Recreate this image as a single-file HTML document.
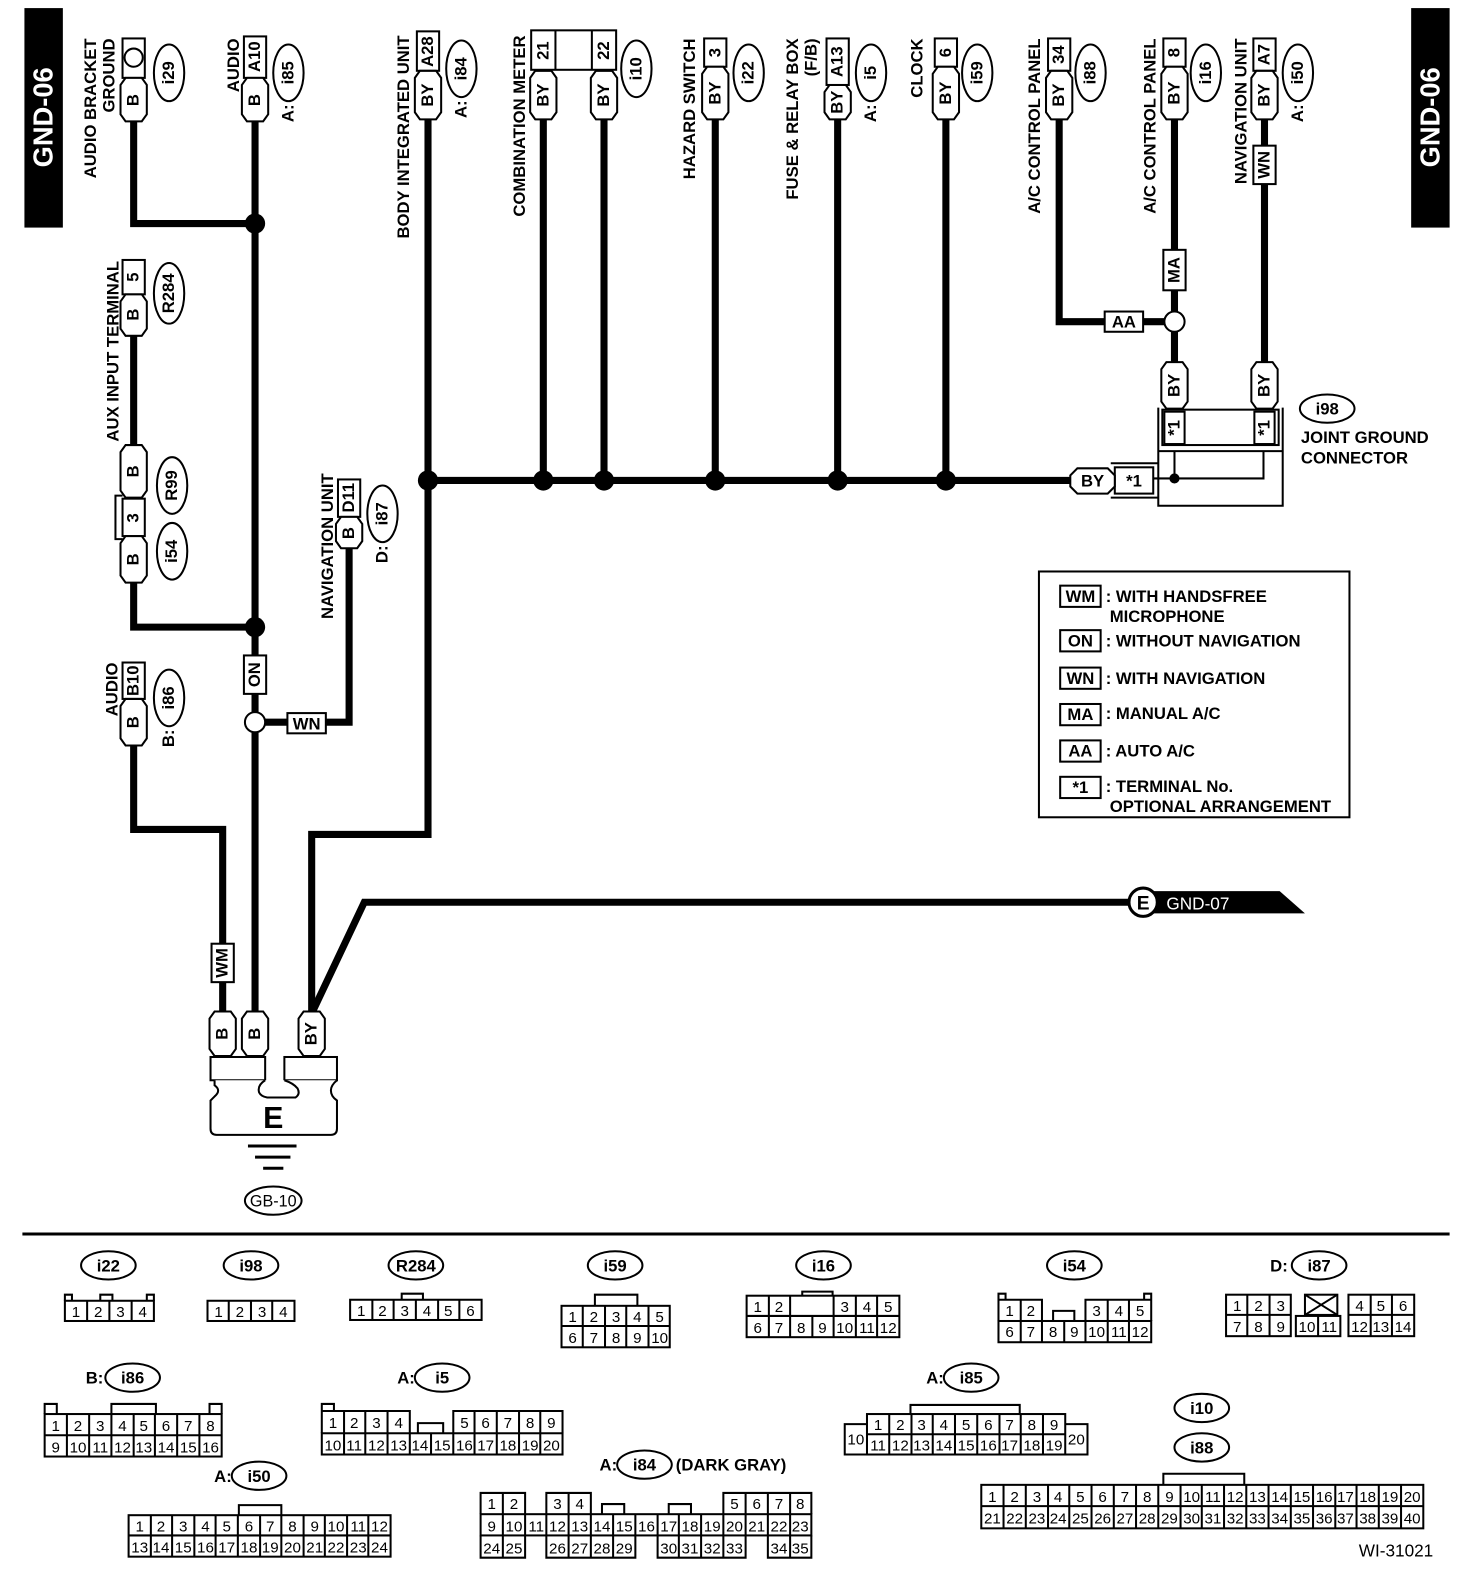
<!DOCTYPE html>
<html><head><meta charset="utf-8"><style>
html,body{margin:0;padding:0;background:#fff}
svg{display:block}
text{font-family:"Liberation Sans",sans-serif;font-weight:bold;font-size:16.5px;fill:#000}
.n{font-weight:normal;font-size:15px}
.o{fill:none;stroke:#000;stroke-width:2}
.w{fill:none;stroke:#000;stroke-width:7}
.t{fill:none;stroke:#000;stroke-width:2}
.c{fill:#fff;stroke:#000;stroke-width:2}
</style></head><body>
<svg width="1472" height="1586" viewBox="0 0 1455 1568" xmlns="http://www.w3.org/2000/svg">
<rect x="24" y="8" width="38" height="217" fill="#000"/>
<text transform="translate(52,116) rotate(-90)" text-anchor="middle" style="fill:#fff;font-size:27px">GND-06</text>
<rect x="1395" y="8" width="38" height="217" fill="#000"/>
<text transform="translate(1423,116) rotate(-90)" text-anchor="middle" style="fill:#fff;font-size:27px">GND-06</text>

<polyline class="w" points="132,118 132,221 252,221"/>
<line class="w" x1="252" y1="118" x2="252" y2="1002"/>
<polyline class="w" points="132,576 132,620 252,620"/>
<line class="w" x1="132" y1="332" x2="132" y2="440"/>
<polyline class="w" points="252,714 345,714 345,542"/>
<polyline class="w" points="132,737 132,820 220,820 220,1002"/>
<polyline class="w" points="423,118 423,825 308,825 308,1002"/>
<polyline class="w" points="1125,892 360,892 308,1002"/>
<line class="w" x1="423" y1="475" x2="1060" y2="475"/>
<line class="w" x1="537" y1="118" x2="537" y2="475"/>
<line class="w" x1="597" y1="118" x2="597" y2="475"/>
<line class="w" x1="707" y1="118" x2="707" y2="475"/>
<line class="w" x1="828" y1="118" x2="828" y2="475"/>
<line class="w" x1="935" y1="118" x2="935" y2="475"/>
<polyline class="w" points="1047,118 1047,318 1161,318"/>
<line class="w" x1="1161" y1="118" x2="1161" y2="360"/>
<line class="w" x1="1250" y1="118" x2="1250" y2="360"/>
<circle cx="252" cy="221" r="10"/><circle cx="252" cy="620" r="10"/>
<circle cx="423" cy="475" r="10"/><circle cx="537" cy="475" r="10"/><circle cx="597" cy="475" r="10"/>
<circle cx="707" cy="475" r="10"/><circle cx="828" cy="475" r="10"/><circle cx="935" cy="475" r="10"/>
<circle class="c" cx="252" cy="714" r="10"/>
<circle class="c" cx="1161" cy="318" r="10"/>

<rect class="c" x="241" y="648" width="22" height="38"/><text transform="translate(257,667) rotate(-90)" text-anchor="middle">ON</text>
<rect class="c" x="284" y="705" width="38" height="20"/><text x="303" y="721" text-anchor="middle">WN</text>
<rect class="c" x="209" y="933" width="22" height="38"/><text transform="translate(225,952) rotate(-90)" text-anchor="middle">WM</text>
<rect class="c" x="1092" y="308" width="38" height="20"/><text x="1111" y="324" text-anchor="middle">AA</text>
<rect class="c" x="1150" y="247" width="22" height="40"/><text transform="translate(1166,267) rotate(-90)" text-anchor="middle">MA</text>
<rect class="c" x="1239" y="144" width="22" height="38"/><text transform="translate(1255,163) rotate(-90)" text-anchor="middle">WN</text>

<rect class="c" x="121" y="38" width="22" height="39"/><circle class="o" cx="132" cy="57" r="9"/>
<rect class="c" x="241" y="36" width="22" height="41"/><text transform="translate(257,56) rotate(-90)" text-anchor="middle">A10</text>
<rect class="c" x="412" y="31" width="22" height="39"/><text transform="translate(428,51) rotate(-90)" text-anchor="middle">A28</text>
<rect class="c" x="525" y="30" width="84" height="39"/><line class="t" x1="549" y1="30" x2="549" y2="69"/><line class="t" x1="585" y1="30" x2="585" y2="69"/>
<text transform="translate(542,50) rotate(-90)" text-anchor="middle">21</text><text transform="translate(602,50) rotate(-90)" text-anchor="middle">22</text>
<rect class="c" x="696" y="38" width="22" height="28"/><text transform="translate(712,52) rotate(-90)" text-anchor="middle">3</text>
<rect class="c" x="817" y="38" width="22" height="46"/><text transform="translate(833,61) rotate(-90)" text-anchor="middle">A13</text>
<rect class="c" x="924" y="38" width="22" height="28"/><text transform="translate(940,52) rotate(-90)" text-anchor="middle">6</text>
<rect class="c" x="1036" y="38" width="22" height="32"/><text transform="translate(1052,54) rotate(-90)" text-anchor="middle">34</text>
<rect class="c" x="1150" y="38" width="22" height="28"/><text transform="translate(1166,52) rotate(-90)" text-anchor="middle">8</text>
<rect class="c" x="1239" y="38" width="22" height="32"/><text transform="translate(1255,54) rotate(-90)" text-anchor="middle">A7</text>
<polygon class="c" points="119,84 124,77 140,77 145,84 145,113 140,120 124,120 119,113"/><text transform="translate(137,99) rotate(-90)" text-anchor="middle">B</text>
<polygon class="c" points="239,84 244,77 260,77 265,84 265,113 260,120 244,120 239,113"/><text transform="translate(257,99) rotate(-90)" text-anchor="middle">B</text>
<polygon class="c" points="410,77 415,70 431,70 436,77 436,111 431,118 415,118 410,111"/><text transform="translate(428,94) rotate(-90)" text-anchor="middle">BY</text>
<polygon class="c" points="524,77 529,70 545,70 550,77 550,111 545,118 529,118 524,111"/><text transform="translate(542,94) rotate(-90)" text-anchor="middle">BY</text>
<polygon class="c" points="584,77 589,70 605,70 610,77 610,111 605,118 589,118 584,111"/><text transform="translate(602,94) rotate(-90)" text-anchor="middle">BY</text>
<polygon class="c" points="694,73 699,66 715,66 720,73 720,111 715,118 699,118 694,111"/><text transform="translate(712,92) rotate(-90)" text-anchor="middle">BY</text>
<polygon class="c" points="815,91 820,84 836,84 841,91 841,111 836,118 820,118 815,111"/><text transform="translate(833,101) rotate(-90)" text-anchor="middle">BY</text>
<polygon class="c" points="922,73 927,66 943,66 948,73 948,111 943,118 927,118 922,111"/><text transform="translate(940,92) rotate(-90)" text-anchor="middle">BY</text>
<polygon class="c" points="1034,77 1039,70 1055,70 1060,77 1060,111 1055,118 1039,118 1034,111"/><text transform="translate(1052,94) rotate(-90)" text-anchor="middle">BY</text>
<polygon class="c" points="1148,73 1153,66 1169,66 1174,73 1174,111 1169,118 1153,118 1148,111"/><text transform="translate(1166,92) rotate(-90)" text-anchor="middle">BY</text>
<polygon class="c" points="1237,77 1242,70 1258,70 1263,77 1263,111 1258,118 1242,118 1237,111"/><text transform="translate(1255,94) rotate(-90)" text-anchor="middle">BY</text>
<ellipse class="o" cx="167" cy="72" rx="15" ry="28"/><text transform="translate(172,72) rotate(-90)" text-anchor="middle">i29</text>
<ellipse class="o" cx="285" cy="72" rx="15" ry="28"/><text transform="translate(290,72) rotate(-90)" text-anchor="middle">i85</text>
<text transform="translate(290,112) rotate(-90)" text-anchor="middle">A:</text>
<ellipse class="o" cx="456" cy="68" rx="15" ry="28"/><text transform="translate(461,68) rotate(-90)" text-anchor="middle">i84</text>
<text transform="translate(461,108) rotate(-90)" text-anchor="middle">A:</text>
<ellipse class="o" cx="629" cy="68" rx="15" ry="28"/><text transform="translate(634,68) rotate(-90)" text-anchor="middle">i10</text>
<ellipse class="o" cx="740" cy="72" rx="15" ry="28"/><text transform="translate(745,72) rotate(-90)" text-anchor="middle">i22</text>
<ellipse class="o" cx="861" cy="72" rx="15" ry="28"/><text transform="translate(866,72) rotate(-90)" text-anchor="middle">i5</text>
<text transform="translate(866,112) rotate(-90)" text-anchor="middle">A:</text>
<ellipse class="o" cx="966" cy="72" rx="15" ry="28"/><text transform="translate(971,72) rotate(-90)" text-anchor="middle">i59</text>
<ellipse class="o" cx="1078" cy="72" rx="15" ry="28"/><text transform="translate(1083,72) rotate(-90)" text-anchor="middle">i88</text>
<ellipse class="o" cx="1192" cy="72" rx="15" ry="28"/><text transform="translate(1197,72) rotate(-90)" text-anchor="middle">i16</text>
<ellipse class="o" cx="1283" cy="72" rx="15" ry="28"/><text transform="translate(1288,72) rotate(-90)" text-anchor="middle">i50</text>
<text transform="translate(1288,112) rotate(-90)" text-anchor="middle">A:</text>
<text transform="translate(95,38) rotate(-90)" text-anchor="end">AUDIO BRACKET</text>
<text transform="translate(113,38) rotate(-90)" text-anchor="end">GROUND</text>
<text transform="translate(236,38) rotate(-90)" text-anchor="end">AUDIO</text>
<text transform="translate(404,35) rotate(-90)" text-anchor="end">BODY INTEGRATED UNIT</text>
<text transform="translate(519,35) rotate(-90)" text-anchor="end">COMBINATION METER</text>
<text transform="translate(687,38) rotate(-90)" text-anchor="end">HAZARD SWITCH</text>
<text transform="translate(789,38) rotate(-90)" text-anchor="end">FUSE &amp; RELAY BOX</text>
<text transform="translate(807,38) rotate(-90)" text-anchor="end">(F/B)</text>
<text transform="translate(912,38) rotate(-90)" text-anchor="end">CLOCK</text>
<text transform="translate(1028,38) rotate(-90)" text-anchor="end">A/C CONTROL PANEL</text>
<text transform="translate(1142,38) rotate(-90)" text-anchor="end">A/C CONTROL PANEL</text>
<text transform="translate(1232,38) rotate(-90)" text-anchor="end">NAVIGATION UNIT</text>

<text transform="translate(117,258) rotate(-90)" text-anchor="end">AUX INPUT TERMINAL</text>
<rect class="c" x="121" y="257" width="22" height="34"/><text transform="translate(137,274) rotate(-90)" text-anchor="middle">5</text>
<polygon class="c" points="119,298 124,291 140,291 145,298 145,325 140,332 124,332 119,325"/><text transform="translate(137,311) rotate(-90)" text-anchor="middle">B</text>
<ellipse class="o" cx="167" cy="290" rx="15" ry="30"/><text transform="translate(172,290) rotate(-90)" text-anchor="middle">R284</text>
<polygon class="c" points="119,447 124,440 140,440 145,447 145,485 140,492 124,492 119,485"/><text transform="translate(137,466) rotate(-90)" text-anchor="middle">B</text>
<ellipse class="o" cx="170" cy="480" rx="15" ry="28"/><text transform="translate(175,480) rotate(-90)" text-anchor="middle">R99</text>
<rect class="c" x="121" y="493" width="22" height="37"/><text transform="translate(137,512) rotate(-90)" text-anchor="middle">3</text>
<polyline class="t" points="121,490 114,490 114,533 121,533"/>
<polygon class="c" points="119,537 124,530 140,530 145,537 145,569 140,576 124,576 119,569"/><text transform="translate(137,553) rotate(-90)" text-anchor="middle">B</text>
<ellipse class="o" cx="170" cy="545" rx="15" ry="28"/><text transform="translate(175,545) rotate(-90)" text-anchor="middle">i54</text>
<text transform="translate(329,612) rotate(-90)" text-anchor="start">NAVIGATION UNIT</text>
<rect class="c" x="334" y="474" width="22" height="37"/><text transform="translate(350,492) rotate(-90)" text-anchor="middle">D11</text>
<polygon class="c" points="332,518 337,511 353,511 358,518 358,535 353,542 337,542 332,535"/><text transform="translate(350,527) rotate(-90)" text-anchor="middle">B</text>
<ellipse class="o" cx="378" cy="508" rx="15" ry="28"/><text transform="translate(383,508) rotate(-90)" text-anchor="middle">i87</text>
<text transform="translate(383,548) rotate(-90)" text-anchor="middle">D:</text>
<text transform="translate(116,655) rotate(-90)" text-anchor="end">AUDIO</text>
<rect class="c" x="121" y="655" width="22" height="36"/><text transform="translate(137,673) rotate(-90)" text-anchor="middle">B10</text>
<polygon class="c" points="119,698 124,691 140,691 145,698 145,730 140,737 124,737 119,730"/><text transform="translate(137,714) rotate(-90)" text-anchor="middle">B</text>
<ellipse class="o" cx="167" cy="690" rx="15" ry="28"/><text transform="translate(172,690) rotate(-90)" text-anchor="middle">i86</text>
<text transform="translate(172,730) rotate(-90)" text-anchor="middle">B:</text>

<polygon class="c" points="1148,365 1153,358 1169,358 1174,365 1174,397 1169,404 1153,404 1148,397"/><text transform="translate(1166,381) rotate(-90)" text-anchor="middle">BY</text>
<polygon class="c" points="1237,365 1242,358 1258,358 1263,365 1263,397 1258,404 1242,404 1237,397"/><text transform="translate(1255,381) rotate(-90)" text-anchor="middle">BY</text>
<polyline class="t" points="1145,403 1145,500 1268,500 1268,403"/>
<rect class="c" x="1149" y="405" width="115" height="35"/>
<rect class="c" x="1151" y="407" width="20" height="32"/><text transform="translate(1166,423) rotate(-90)" text-anchor="middle">*1</text>
<rect class="c" x="1240" y="407" width="20" height="32"/><text transform="translate(1255,423) rotate(-90)" text-anchor="middle">*1</text>
<line class="t" x1="1145" y1="446" x2="1268" y2="446"/>
<line class="t" x1="1161" y1="446" x2="1161" y2="473"/>
<polyline class="t" points="1249,446 1249,473 1140,473"/>
<circle cx="1161" cy="473" r="5"/>
<line class="t" x1="1098" y1="458" x2="1145" y2="458"/><line class="t" x1="1098" y1="492" x2="1145" y2="492"/>
<rect class="c" x="1102" y="462" width="38" height="26"/><text x="1121" y="481" text-anchor="middle">*1</text>
<polygon class="c" points="1065,463 1095,463 1102,470 1102,481 1095,488 1065,488 1058,481 1058,470"/><text x="1080" y="481" text-anchor="middle">BY</text>
<ellipse class="o" cx="1312" cy="404" rx="27" ry="14"/><text x="1312" y="410" text-anchor="middle">i98</text>
<text x="1286" y="438">JOINT GROUND</text>
<text x="1286" y="458">CONNECTOR</text>

<rect class="o" x="1027" y="565" width="307" height="243"/>
<rect class="c" x="1048" y="579" width="40" height="21"/><text x="1068" y="595" text-anchor="middle">WM</text>
<text x="1093" y="595">: WITH HANDSFREE</text><text x="1097" y="615">MICROPHONE</text>
<rect class="c" x="1048" y="623" width="40" height="21"/><text x="1068" y="639" text-anchor="middle">ON</text>
<text x="1093" y="639">: WITHOUT NAVIGATION</text>
<rect class="c" x="1048" y="660" width="40" height="21"/><text x="1068" y="676" text-anchor="middle">WN</text>
<text x="1093" y="676">: WITH NAVIGATION</text>
<rect class="c" x="1048" y="696" width="40" height="21"/><text x="1068" y="712" text-anchor="middle">MA</text>
<text x="1093" y="711">: MANUAL A/C</text>
<rect class="c" x="1048" y="732" width="40" height="21"/><text x="1068" y="748" text-anchor="middle">AA</text>
<text x="1093" y="748">: AUTO A/C</text>
<rect class="c" x="1048" y="768" width="40" height="21"/><text x="1068" y="784" text-anchor="middle">*1</text>
<text x="1093" y="783">: TERMINAL No.</text><text x="1097" y="803">OPTIONAL ARRANGEMENT</text>

<polygon points="1130,881 1265,881 1290,903 1130,903" fill="#000"/>
<circle cx="1130" cy="892" r="14" fill="#fff" stroke="#000" stroke-width="3"/>
<text x="1130" y="899" text-anchor="middle" style="font-size:19px">E</text>
<text x="1153" y="899" style="fill:#fff;font-weight:normal;font-size:17px">GND-07</text>

<polygon class="c" points="207,1007 212,1000 228,1000 233,1007 233,1037 228,1044 212,1044 207,1037"/><text transform="translate(225,1022) rotate(-90)" text-anchor="middle">B</text>
<polygon class="c" points="239,1007 244,1000 260,1000 265,1007 265,1037 260,1044 244,1044 239,1037"/><text transform="translate(257,1022) rotate(-90)" text-anchor="middle">B</text>
<polygon class="c" points="295,1007 300,1000 316,1000 321,1007 321,1037 316,1044 300,1044 295,1037"/><text transform="translate(313,1022) rotate(-90)" text-anchor="middle">BY</text>
<rect class="c" x="208" y="1045" width="54" height="23"/>
<rect class="c" x="281" y="1045" width="52" height="23"/>
<path class="c" d="M212,1068 L212,1073 Q219,1078 212,1084 L208,1088 L208,1116 Q208,1122 214,1122 L327,1122 Q333,1122 333,1116 L333,1088 Q327,1084 327,1078 Q327,1073 333,1068 M262,1068 Q254,1073 256,1080 Q258,1084 264,1085 L292,1085 Q297,1082 294,1076 Q290,1071 281,1068"/>
<text x="270" y="1115" text-anchor="middle" style="font-size:30px">E</text>
<line class="t" x1="245" y1="1133" x2="293" y2="1133" style="stroke-width:3"/>
<line class="t" x1="252" y1="1144" x2="287" y2="1144" style="stroke-width:3"/>
<line class="t" x1="260" y1="1155" x2="280" y2="1155" style="stroke-width:3"/>
<ellipse class="o" cx="270" cy="1187" rx="28" ry="14"/><text x="270" y="1193" text-anchor="middle" style="font-weight:normal;font-size:16px">GB-10</text>

<line x1="22" y1="1220" x2="1433" y2="1220" stroke="#000" stroke-width="3"/>

<g>
<ellipse class="o" cx="107" cy="1251" rx="27" ry="14"/><text x="107" y="1257" text-anchor="middle">i22</text>
<ellipse class="o" cx="248" cy="1251" rx="27" ry="14"/><text x="248" y="1257" text-anchor="middle">i98</text>
<ellipse class="o" cx="411" cy="1251" rx="27" ry="14"/><text x="411" y="1257" text-anchor="middle">R284</text>
<ellipse class="o" cx="608" cy="1251" rx="27" ry="14"/><text x="608" y="1257" text-anchor="middle">i59</text>
<ellipse class="o" cx="814" cy="1251" rx="27" ry="14"/><text x="814" y="1257" text-anchor="middle">i16</text>
<ellipse class="o" cx="1062" cy="1251" rx="27" ry="14"/><text x="1062" y="1257" text-anchor="middle">i54</text>
<text x="1273" y="1257" text-anchor="end">D:</text><ellipse class="o" cx="1304" cy="1251" rx="27" ry="14"/><text x="1304" y="1257" text-anchor="middle">i87</text>
<text x="102" y="1368" text-anchor="end">B:</text><ellipse class="o" cx="131" cy="1362" rx="27" ry="14"/><text x="131" y="1368" text-anchor="middle">i86</text>
<text x="410" y="1368" text-anchor="end">A:</text><ellipse class="o" cx="437" cy="1362" rx="27" ry="14"/><text x="437" y="1368" text-anchor="middle">i5</text>
<text x="933" y="1368" text-anchor="end">A:</text><ellipse class="o" cx="960" cy="1362" rx="27" ry="14"/><text x="960" y="1368" text-anchor="middle">i85</text>
<text x="229" y="1465" text-anchor="end">A:</text><ellipse class="o" cx="256" cy="1459" rx="27" ry="14"/><text x="256" y="1465" text-anchor="middle">i50</text>
<text x="610" y="1454" text-anchor="end">A:</text><ellipse class="o" cx="637" cy="1448" rx="27" ry="14"/><text x="637" y="1454" text-anchor="middle">i84</text>
<text x="668" y="1454">(DARK GRAY)</text>
<ellipse class="o" cx="1188" cy="1392" rx="27" ry="14"/><text x="1188" y="1398" text-anchor="middle">i10</text>
<ellipse class="o" cx="1188" cy="1431" rx="27" ry="14"/><text x="1188" y="1437" text-anchor="middle">i88</text>
<text x="1380" y="1539" text-anchor="middle" style="font-weight:normal;font-size:17px">WI-31021</text>
</g>

<g class="n">
<rect class="o" x="64" y="1286" width="88" height="20"/>
<path class="t" d="M86,1286V1306M108,1286V1306M130,1286V1306M64,1286V1280H71V1286M99,1286V1280H111V1286M145,1286V1280H152V1286"/>
<text class="n" x="75" y="1302" text-anchor="middle">1</text><text class="n" x="97" y="1302" text-anchor="middle">2</text><text class="n" x="119" y="1302" text-anchor="middle">3</text><text class="n" x="141" y="1302" text-anchor="middle">4</text>
<rect class="o" x="205" y="1286" width="86" height="20"/>
<path class="t" d="M226,1286V1306M248,1286V1306M269,1286V1306"/>
<text class="n" x="216" y="1302" text-anchor="middle">1</text><text class="n" x="237" y="1302" text-anchor="middle">2</text><text class="n" x="259" y="1302" text-anchor="middle">3</text><text class="n" x="280" y="1302" text-anchor="middle">4</text>
<rect class="o" x="346" y="1285" width="130" height="20"/>
<path class="t" d="M368,1285V1305M389,1285V1305M411,1285V1305M433,1285V1305M454,1285V1305M397,1285V1279H418V1285"/>
<text class="n" x="357" y="1301" text-anchor="middle">1</text><text class="n" x="378" y="1301" text-anchor="middle">2</text><text class="n" x="400" y="1301" text-anchor="middle">3</text><text class="n" x="422" y="1301" text-anchor="middle">4</text><text class="n" x="443" y="1301" text-anchor="middle">5</text><text class="n" x="465" y="1301" text-anchor="middle">6</text>
<rect class="o" x="555" y="1291" width="107" height="41"/>
<path class="t" d="M555,1311H662M576,1291V1332M598,1291V1332M619,1291V1332M641,1291V1332M588,1291V1280H630V1291"/>
<text class="n" x="566" y="1307" text-anchor="middle">1</text><text class="n" x="587" y="1307" text-anchor="middle">2</text><text class="n" x="609" y="1307" text-anchor="middle">3</text><text class="n" x="630" y="1307" text-anchor="middle">4</text><text class="n" x="652" y="1307" text-anchor="middle">5</text>
<text class="n" x="566" y="1328" text-anchor="middle">6</text><text class="n" x="587" y="1328" text-anchor="middle">7</text><text class="n" x="609" y="1328" text-anchor="middle">8</text><text class="n" x="630" y="1328" text-anchor="middle">9</text><text class="n" x="652" y="1328" text-anchor="middle">10</text>
<rect class="o" x="738" y="1281" width="151" height="41"/>
<path class="t" d="M738,1301H889M760,1281V1322M781,1281V1322M803,1301V1322M824,1281V1322M846,1281V1322M867,1281V1322M793,1281V1277H823V1281"/>
<text class="n" x="749" y="1297" text-anchor="middle">1</text><text class="n" x="770" y="1297" text-anchor="middle">2</text><text class="n" x="835" y="1297" text-anchor="middle">3</text><text class="n" x="857" y="1297" text-anchor="middle">4</text><text class="n" x="878" y="1297" text-anchor="middle">5</text>
<text class="n" x="749" y="1318" text-anchor="middle">6</text><text class="n" x="770" y="1318" text-anchor="middle">7</text><text class="n" x="792" y="1318" text-anchor="middle">8</text><text class="n" x="813" y="1318" text-anchor="middle">9</text><text class="n" x="835" y="1318" text-anchor="middle">10</text><text class="n" x="857" y="1318" text-anchor="middle">11</text><text class="n" x="878" y="1318" text-anchor="middle">12</text>
<rect class="o" x="987" y="1306" width="151" height="21"/>
<path class="t" d="M987,1306V1285H1030V1306M1073,1306V1285H1138V1306M1009,1285V1327M1030,1306V1327M1052,1306V1327M1073,1306V1327M1095,1285V1327M1116,1285V1327M1041,1306V1296H1062V1306M987,1285V1279H994V1285M1131,1285V1279H1138V1285"/>
<text class="n" x="998" y="1301" text-anchor="middle">1</text><text class="n" x="1019" y="1301" text-anchor="middle">2</text><text class="n" x="1084" y="1301" text-anchor="middle">3</text><text class="n" x="1106" y="1301" text-anchor="middle">4</text><text class="n" x="1127" y="1301" text-anchor="middle">5</text>
<text class="n" x="998" y="1322" text-anchor="middle">6</text><text class="n" x="1019" y="1322" text-anchor="middle">7</text><text class="n" x="1041" y="1322" text-anchor="middle">8</text><text class="n" x="1062" y="1322" text-anchor="middle">9</text><text class="n" x="1084" y="1322" text-anchor="middle">10</text><text class="n" x="1106" y="1322" text-anchor="middle">11</text><text class="n" x="1127" y="1322" text-anchor="middle">12</text>
<rect class="o" x="1212" y="1280" width="64" height="41"/>
<path class="t" d="M1212,1300H1276M1233,1280V1321M1255,1280V1321"/>
<rect class="o" x="1290" y="1280" width="32" height="20"/><path class="t" d="M1290,1280L1322,1300M1322,1280L1290,1300"/>
<rect class="o" x="1281" y="1301" width="44" height="20"/><path class="t" d="M1303,1301V1321"/>
<rect class="o" x="1333" y="1280" width="65" height="41"/>
<path class="t" d="M1333,1300H1398M1355,1280V1321M1376,1280V1321"/>
<text class="n" x="1223" y="1296" text-anchor="middle">1</text><text class="n" x="1244" y="1296" text-anchor="middle">2</text><text class="n" x="1266" y="1296" text-anchor="middle">3</text>
<text class="n" x="1344" y="1296" text-anchor="middle">4</text><text class="n" x="1365" y="1296" text-anchor="middle">5</text><text class="n" x="1387" y="1296" text-anchor="middle">6</text>
<text class="n" x="1223" y="1317" text-anchor="middle">7</text><text class="n" x="1244" y="1317" text-anchor="middle">8</text><text class="n" x="1266" y="1317" text-anchor="middle">9</text>
<text class="n" x="1292" y="1317" text-anchor="middle">10</text><text class="n" x="1314" y="1317" text-anchor="middle">11</text>
<text class="n" x="1344" y="1317" text-anchor="middle">12</text><text class="n" x="1365" y="1317" text-anchor="middle">13</text><text class="n" x="1387" y="1317" text-anchor="middle">14</text>
<rect class="o" x="44" y="1398" width="175" height="42"/>
<path class="t" d="M44,1419H219M66,1398V1440M88,1398V1440M110,1398V1440M132,1398V1440M153,1398V1440M175,1398V1440M197,1398V1440M44,1398V1388H56V1398M110,1398V1388H154V1398M207,1398V1388H219V1398"/>
<text class="n" x="55" y="1415" text-anchor="middle">1</text><text class="n" x="77" y="1415" text-anchor="middle">2</text><text class="n" x="99" y="1415" text-anchor="middle">3</text><text class="n" x="121" y="1415" text-anchor="middle">4</text><text class="n" x="142" y="1415" text-anchor="middle">5</text><text class="n" x="164" y="1415" text-anchor="middle">6</text><text class="n" x="186" y="1415" text-anchor="middle">7</text><text class="n" x="208" y="1415" text-anchor="middle">8</text>
<text class="n" x="55" y="1436" text-anchor="middle">9</text><text class="n" x="77" y="1436" text-anchor="middle">10</text><text class="n" x="99" y="1436" text-anchor="middle">11</text><text class="n" x="121" y="1436" text-anchor="middle">12</text><text class="n" x="142" y="1436" text-anchor="middle">13</text><text class="n" x="164" y="1436" text-anchor="middle">14</text><text class="n" x="186" y="1436" text-anchor="middle">15</text><text class="n" x="208" y="1436" text-anchor="middle">16</text>
<rect class="o" x="318" y="1417" width="238" height="21"/>
<path class="t" d="M318,1417V1395H405V1417M448,1417V1395H556V1417M318,1395V1388H330V1395M413,1417V1407H438V1417M340,1395V1438M361,1395V1438M383,1395V1438M405,1417V1438M426,1417V1438M448,1417V1438M469,1395V1438M491,1395V1438M513,1395V1438M534,1395V1438"/>
<text class="n" x="329" y="1412" text-anchor="middle">1</text><text class="n" x="350" y="1412" text-anchor="middle">2</text><text class="n" x="372" y="1412" text-anchor="middle">3</text><text class="n" x="394" y="1412" text-anchor="middle">4</text>
<text class="n" x="459" y="1412" text-anchor="middle">5</text><text class="n" x="480" y="1412" text-anchor="middle">6</text><text class="n" x="502" y="1412" text-anchor="middle">7</text><text class="n" x="524" y="1412" text-anchor="middle">8</text><text class="n" x="545" y="1412" text-anchor="middle">9</text>
<text class="n" x="329" y="1434" text-anchor="middle">10</text><text class="n" x="350" y="1434" text-anchor="middle">11</text><text class="n" x="372" y="1434" text-anchor="middle">12</text><text class="n" x="394" y="1434" text-anchor="middle">13</text><text class="n" x="415" y="1434" text-anchor="middle">14</text><text class="n" x="437" y="1434" text-anchor="middle">15</text><text class="n" x="459" y="1434" text-anchor="middle">16</text><text class="n" x="480" y="1434" text-anchor="middle">17</text><text class="n" x="502" y="1434" text-anchor="middle">18</text><text class="n" x="524" y="1434" text-anchor="middle">19</text><text class="n" x="545" y="1434" text-anchor="middle">20</text>
<rect class="o" x="857" y="1398" width="196" height="40"/>
<path class="t" d="M857,1418H1053M879,1398V1438M901,1398V1438M922,1398V1438M944,1398V1438M966,1398V1438M988,1398V1438M1009,1398V1438M1031,1398V1438M900,1398V1389H1008V1398M857,1408H835V1438H857M1053,1408H1075V1438H1053"/>
<text class="n" x="868" y="1414" text-anchor="middle">1</text><text class="n" x="890" y="1414" text-anchor="middle">2</text><text class="n" x="911" y="1414" text-anchor="middle">3</text><text class="n" x="933" y="1414" text-anchor="middle">4</text><text class="n" x="955" y="1414" text-anchor="middle">5</text><text class="n" x="977" y="1414" text-anchor="middle">6</text><text class="n" x="998" y="1414" text-anchor="middle">7</text><text class="n" x="1020" y="1414" text-anchor="middle">8</text><text class="n" x="1042" y="1414" text-anchor="middle">9</text>
<text class="n" x="846" y="1428" text-anchor="middle">10</text><text class="n" x="1064" y="1428" text-anchor="middle">20</text>
<text class="n" x="868" y="1434" text-anchor="middle">11</text><text class="n" x="890" y="1434" text-anchor="middle">12</text><text class="n" x="911" y="1434" text-anchor="middle">13</text><text class="n" x="933" y="1434" text-anchor="middle">14</text><text class="n" x="955" y="1434" text-anchor="middle">15</text><text class="n" x="977" y="1434" text-anchor="middle">16</text><text class="n" x="998" y="1434" text-anchor="middle">17</text><text class="n" x="1020" y="1434" text-anchor="middle">18</text><text class="n" x="1042" y="1434" text-anchor="middle">19</text>
<rect class="o" x="127" y="1498" width="259" height="41"/>
<path class="t" d="M127,1518H386M149,1498V1539M170,1498V1539M192,1498V1539M213,1498V1539M235,1498V1539M257,1498V1539M278,1498V1539M300,1498V1539M321,1498V1539M343,1498V1539M364,1498V1539M236,1498V1488H278V1498"/>
<text class="n" x="138" y="1514" text-anchor="middle">1</text><text class="n" x="159" y="1514" text-anchor="middle">2</text><text class="n" x="181" y="1514" text-anchor="middle">3</text><text class="n" x="203" y="1514" text-anchor="middle">4</text><text class="n" x="224" y="1514" text-anchor="middle">5</text><text class="n" x="246" y="1514" text-anchor="middle">6</text><text class="n" x="267" y="1514" text-anchor="middle">7</text><text class="n" x="289" y="1514" text-anchor="middle">8</text><text class="n" x="311" y="1514" text-anchor="middle">9</text><text class="n" x="332" y="1514" text-anchor="middle">10</text><text class="n" x="354" y="1514" text-anchor="middle">11</text><text class="n" x="375" y="1514" text-anchor="middle">12</text>
<text class="n" x="138" y="1535" text-anchor="middle">13</text><text class="n" x="159" y="1535" text-anchor="middle">14</text><text class="n" x="181" y="1535" text-anchor="middle">15</text><text class="n" x="203" y="1535" text-anchor="middle">16</text><text class="n" x="224" y="1535" text-anchor="middle">17</text><text class="n" x="246" y="1535" text-anchor="middle">18</text><text class="n" x="267" y="1535" text-anchor="middle">19</text><text class="n" x="289" y="1535" text-anchor="middle">20</text><text class="n" x="311" y="1535" text-anchor="middle">21</text><text class="n" x="332" y="1535" text-anchor="middle">22</text><text class="n" x="354" y="1535" text-anchor="middle">23</text><text class="n" x="375" y="1535" text-anchor="middle">24</text>
<rect class="o" x="475" y="1497" width="327" height="21"/>
<path class="t" d="M475,1497V1476H519V1497M540,1497V1476H584V1497M715,1497V1476H759V1497M759,1497V1476H802V1497M497,1476V1540M519,1497V1518M540,1497V1518M562,1476V1540M584,1497V1540M606,1497V1540M628,1497V1518M650,1497V1518M671,1497V1540M693,1497V1540M715,1476V1540M737,1476V1540M759,1497V1518M781,1476V1540M475,1518V1540H519V1518M540,1518V1540H628V1518M650,1518V1540H737V1518M759,1518V1540H802V1518M595,1497V1487H617V1497M661,1497V1487H683V1497"/>
<text class="n" x="486" y="1492" text-anchor="middle">1</text><text class="n" x="508" y="1492" text-anchor="middle">2</text><text class="n" x="551" y="1492" text-anchor="middle">3</text><text class="n" x="573" y="1492" text-anchor="middle">4</text><text class="n" x="726" y="1492" text-anchor="middle">5</text><text class="n" x="748" y="1492" text-anchor="middle">6</text><text class="n" x="770" y="1492" text-anchor="middle">7</text><text class="n" x="791" y="1492" text-anchor="middle">8</text>
<text class="n" x="486" y="1514" text-anchor="middle">9</text><text class="n" x="508" y="1514" text-anchor="middle">10</text><text class="n" x="530" y="1514" text-anchor="middle">11</text><text class="n" x="551" y="1514" text-anchor="middle">12</text><text class="n" x="573" y="1514" text-anchor="middle">13</text><text class="n" x="595" y="1514" text-anchor="middle">14</text><text class="n" x="617" y="1514" text-anchor="middle">15</text><text class="n" x="639" y="1514" text-anchor="middle">16</text><text class="n" x="661" y="1514" text-anchor="middle">17</text><text class="n" x="682" y="1514" text-anchor="middle">18</text><text class="n" x="704" y="1514" text-anchor="middle">19</text><text class="n" x="726" y="1514" text-anchor="middle">20</text><text class="n" x="748" y="1514" text-anchor="middle">21</text><text class="n" x="770" y="1514" text-anchor="middle">22</text><text class="n" x="791" y="1514" text-anchor="middle">23</text>
<text class="n" x="486" y="1536" text-anchor="middle">24</text><text class="n" x="508" y="1536" text-anchor="middle">25</text><text class="n" x="551" y="1536" text-anchor="middle">26</text><text class="n" x="573" y="1536" text-anchor="middle">27</text><text class="n" x="595" y="1536" text-anchor="middle">28</text><text class="n" x="617" y="1536" text-anchor="middle">29</text><text class="n" x="661" y="1536" text-anchor="middle">30</text><text class="n" x="682" y="1536" text-anchor="middle">31</text><text class="n" x="704" y="1536" text-anchor="middle">32</text><text class="n" x="726" y="1536" text-anchor="middle">33</text><text class="n" x="770" y="1536" text-anchor="middle">34</text><text class="n" x="791" y="1536" text-anchor="middle">35</text>
<rect class="o" x="970" y="1468" width="437" height="43"/>
<path class="t" d="M970,1489H1407M992,1468V1511M1014,1468V1511M1036,1468V1511M1057,1468V1511M1079,1468V1511M1101,1468V1511M1123,1468V1511M1145,1468V1511M1167,1468V1511M1188,1468V1511M1210,1468V1511M1232,1468V1511M1254,1468V1511M1276,1468V1511M1298,1468V1511M1320,1468V1511M1341,1468V1511M1363,1468V1511M1385,1468V1511M1150,1468V1457H1230V1468"/>
<text class="n" x="981" y="1485" text-anchor="middle">1</text><text class="n" x="1003" y="1485" text-anchor="middle">2</text><text class="n" x="1025" y="1485" text-anchor="middle">3</text><text class="n" x="1046" y="1485" text-anchor="middle">4</text><text class="n" x="1068" y="1485" text-anchor="middle">5</text><text class="n" x="1090" y="1485" text-anchor="middle">6</text><text class="n" x="1112" y="1485" text-anchor="middle">7</text><text class="n" x="1134" y="1485" text-anchor="middle">8</text><text class="n" x="1156" y="1485" text-anchor="middle">9</text><text class="n" x="1178" y="1485" text-anchor="middle">10</text><text class="n" x="1199" y="1485" text-anchor="middle">11</text><text class="n" x="1221" y="1485" text-anchor="middle">12</text><text class="n" x="1243" y="1485" text-anchor="middle">13</text><text class="n" x="1265" y="1485" text-anchor="middle">14</text><text class="n" x="1287" y="1485" text-anchor="middle">15</text><text class="n" x="1309" y="1485" text-anchor="middle">16</text><text class="n" x="1330" y="1485" text-anchor="middle">17</text><text class="n" x="1352" y="1485" text-anchor="middle">18</text><text class="n" x="1374" y="1485" text-anchor="middle">19</text><text class="n" x="1396" y="1485" text-anchor="middle">20</text>
<text class="n" x="981" y="1506" text-anchor="middle">21</text><text class="n" x="1003" y="1506" text-anchor="middle">22</text><text class="n" x="1025" y="1506" text-anchor="middle">23</text><text class="n" x="1046" y="1506" text-anchor="middle">24</text><text class="n" x="1068" y="1506" text-anchor="middle">25</text><text class="n" x="1090" y="1506" text-anchor="middle">26</text><text class="n" x="1112" y="1506" text-anchor="middle">27</text><text class="n" x="1134" y="1506" text-anchor="middle">28</text><text class="n" x="1156" y="1506" text-anchor="middle">29</text><text class="n" x="1178" y="1506" text-anchor="middle">30</text><text class="n" x="1199" y="1506" text-anchor="middle">31</text><text class="n" x="1221" y="1506" text-anchor="middle">32</text><text class="n" x="1243" y="1506" text-anchor="middle">33</text><text class="n" x="1265" y="1506" text-anchor="middle">34</text><text class="n" x="1287" y="1506" text-anchor="middle">35</text><text class="n" x="1309" y="1506" text-anchor="middle">36</text><text class="n" x="1330" y="1506" text-anchor="middle">37</text><text class="n" x="1352" y="1506" text-anchor="middle">38</text><text class="n" x="1374" y="1506" text-anchor="middle">39</text><text class="n" x="1396" y="1506" text-anchor="middle">40</text>
</g>
</svg>
</body></html>
